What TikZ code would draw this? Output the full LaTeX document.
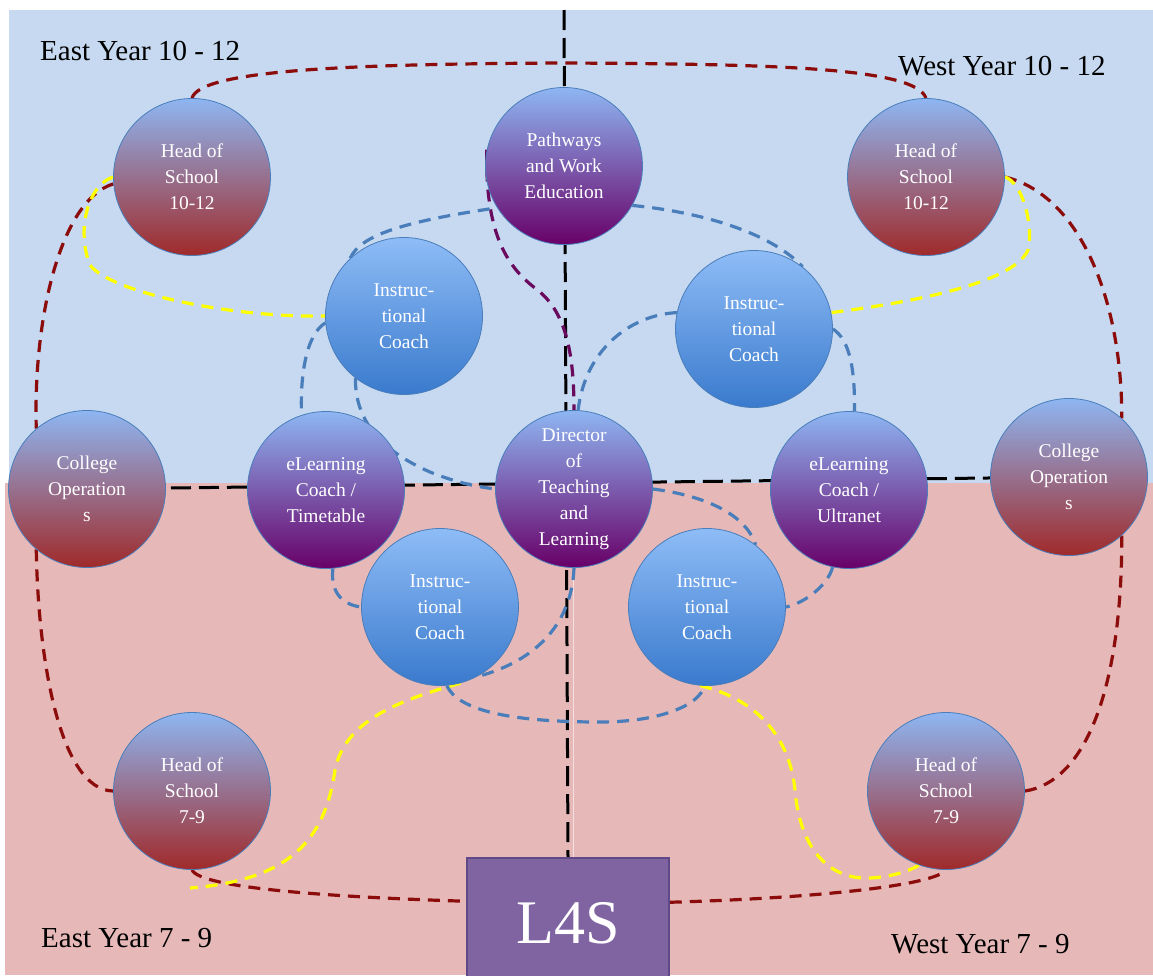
\documentclass[tikz,border=0pt]{standalone}
\usepackage{fontspec}
\setmainfont{Liberation Serif}
\usetikzlibrary{calc}
\pgfdeclarelayer{bg}
\pgfdeclarelayer{lines}
\pgfsetlayers{bg,lines,main}
\definecolor{bgblue}{RGB}{198,217,240}
\definecolor{bgpink}{RGB}{230,185,184}
\definecolor{ctop}{RGB}{142,182,242}
\definecolor{credmid}{RGB}{150,132,170}
\definecolor{cred}{RGB}{160,42,42}
\definecolor{cpurmid}{RGB}{125,95,195}
\definecolor{cpur}{RGB}{104,0,104}
\definecolor{cbtop}{RGB}{142,188,246}
\definecolor{cbmid}{RGB}{100,155,228}
\definecolor{cbbot}{RGB}{58,122,205}
\definecolor{cborder}{RGB}{74,126,187}
\definecolor{lred}{RGB}{140,12,12}
\definecolor{lyel}{RGB}{255,255,0}
\definecolor{lblue}{RGB}{74,126,187}
\definecolor{lpur}{RGB}{105,10,95}
\definecolor{lfill}{RGB}{128,100,162}
\definecolor{ldraw}{RGB}{95,73,135}
\begin{document}
\begin{tikzpicture}[x=1pt,y=-1pt,
  circ/.style={circle, minimum size=157pt, inner sep=0pt, draw=cborder, line width=0.8pt,
    text=white, align=center, font=\fontsize{19.5}{26}\selectfont},
  hos/.style={circ, top color=ctop, middle color=credmid, bottom color=cred},
  purc/.style={circ, top color=ctop, middle color=cpurmid, bottom color=cpur},
  insc/.style={circ, top color=cbtop, middle color=cbmid, bottom color=cbbot},
  lbl/.style={inner sep=0pt, anchor=base west, text=black, font=\fontsize{29}{35}\selectfont},
  redl/.style={draw=lred, line width=3.2pt, dash pattern=on 12pt off 8pt},
  yell/.style={draw=lyel, line width=3.2pt, dash pattern=on 12pt off 8pt},
  bluel/.style={draw=lblue, line width=3.2pt, dash pattern=on 12pt off 8pt},
  purl/.style={draw=lpur, line width=3.2pt, dash pattern=on 12pt off 8pt},
  blkl/.style={draw=black, line width=3pt, dash pattern=on 20pt off 8pt}]
\useasboundingbox (0,0) rectangle (1153,975);

% nodes
\node[hos]  (hl)  at (192,177) {Head of\\School\\10-12};
\node[purc] (pw)  at (564,166) {Pathways\\and Work\\Education};
\node[hos]  (hr)  at (926,177) {Head of\\School\\10-12};
\node[insc] (itl) at (404,316) {Instruc-\\tional\\Coach};
\node[insc] (itr) at (754,329) {Instruc-\\tional\\Coach};
\node[hos]  (col) at (87,489)  {College\\Operation\\s};
\node[purc] (elt) at (326,490) {eLearning\\Coach /\\Timetable};
\node[purc] (dir) at (574,489) {Director\\of\\Teaching\\and\\Learning};
\node[purc] (elu) at (849,490) {eLearning\\Coach /\\Ultranet};
\node[hos]  (cor) at (1069,477) {College\\Operation\\s};
\node[insc] (ibl) at (440,607) {Instruc-\\tional\\Coach};
\node[insc] (ibr) at (707,607) {Instruc-\\tional\\Coach};
\node[hos]  (h7l) at (192,791) {Head of\\School\\7-9};
\node[hos]  (h7r) at (946,791) {Head of\\School\\7-9};
\node[rectangle, minimum width=202pt, minimum height=130pt, inner sep=0pt, fill=lfill, draw=ldraw,
  line width=1.5pt, text=white, font=\fontsize{62}{70}\selectfont] (l4s) at (568,923) {L4S};

\node[lbl] (ten) at (40,60)  {East Year 10 - 12};
\node[lbl] (twn) at (898,75) {West Year 10 - 12};
\node[lbl] (sev) at (41,947) {East Year 7 - 9};
\node[lbl] (swn) at (891,953) {West Year 7 - 9};

\coordinate (vtop) at (564,10);
\coordinate (yend) at (190,888);

\begin{pgfonlayer}{bg}
  \fill[white] (0,0) rectangle (1153,975);
  \fill[bgblue] (9,10) rectangle (1153,483);
  \fill[bgpink] (5,483) rectangle (1153,975);
  \draw[white!55!bgpink, line width=1pt] (573,483) -- (573,975);
\end{pgfonlayer}

\begin{pgfonlayer}{lines}
  % dividers
  \draw[blkl] (vtop) -- (l4s.north);
  \draw[blkl] (col.center) -- (cor.center);
  % red loop
  \draw[redl] (hl.90) .. controls (200,70) and (350,64) .. (563,63) .. controls (780,64) and (915,68) .. (hr.90);
  \draw[redl] (hl.185) .. controls (60,200) and (33,320) .. (col.130);
  \draw[redl] (col.230) .. controls (38,660) and (60,790) .. (h7l.180);
  \draw[redl] (h7l.270) .. controls (200,888) and (330,897) .. ([yshift=-44pt]l4s.north west);
  \draw[redl] ([yshift=-45pt]l4s.north east) .. controls (820,898) and (935,885) .. (h7r.270);
  \draw[redl] (h7r.0) .. controls (1085,782) and (1122,690) .. (cor.312);
  \draw[redl] (hr.0) .. controls (1080,195) and (1122,300) .. (cor.48);
  % yellow
  \draw[yell] (hl.180) .. controls (88,185) and (76,230) .. (90,265) .. controls (110,292) and (230,318) .. (itl.180);
  \draw[yell] (hr.0) .. controls (1022,182) and (1034,225) .. (1028,250) .. controls (1015,280) and (930,300) .. (itr.12);
  \draw[yell] (ibl.285) .. controls (400,700) and (345,720) .. (335,770) .. controls (325,840) and (290,880) .. (yend);
  \draw[yell] (ibr.265) .. controls (760,700) and (790,740) .. (795,790) .. controls (800,850) and (830,880) .. (870,878) .. controls (895,877) and (915,868) .. (h7r.250);
  % purple
  \draw[purl] (pw.168) .. controls (485,230) and (505,265) .. (535,288) .. controls (565,310) and (574,350) .. (dir.90);
  % blue
  \draw[bluel] (itl.133) .. controls (360,236) and (400,222) .. (pw.212);
  \draw[bluel] (pw.330) .. controls (700,212) and (770,232) .. (itr.52);
  \draw[bluel] (itr.0) .. controls (850,340) and (855,370) .. (elu.86);
  \draw[bluel] (itr.168) .. controls (630,315) and (585,350) .. (dir.87);
  \draw[bluel] (itl.185) .. controls (305,335) and (300,380) .. (elt.108);
  \draw[bluel] (itl.232) .. controls (355,420) and (380,450) .. (430,472) .. controls (460,484) and (480,487) .. (dir.180);
  \draw[bluel] (elt.275) .. controls (330,595) and (345,605) .. (ibl.180);
  \draw[bluel] (dir.0) .. controls (700,495) and (745,512) .. (ibr.52);
  \draw[bluel] (elu.258) .. controls (828,585) and (805,603) .. (ibr.0);
  \draw[bluel] (dir.270) .. controls (572,620) and (540,660) .. (ibl.298);
  \draw[bluel] (ibl.275) .. controls (460,715) and (530,722) .. (600,722) .. controls (660,722) and (700,705) .. (ibr.268);
\end{pgfonlayer}
\end{tikzpicture}
\end{document}
